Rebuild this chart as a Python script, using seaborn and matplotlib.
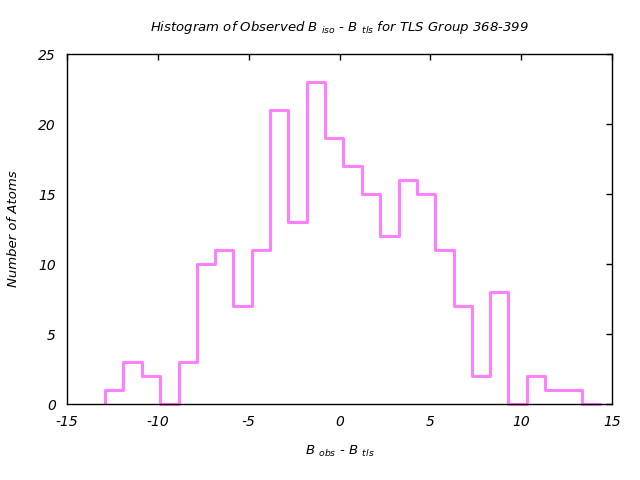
import numpy as np
import matplotlib
matplotlib.use("Agg")
import matplotlib.pyplot as plt
import seaborn as sns

# Data
bin_edges = [-12.90, -11.89, -10.88, -9.87, -8.86, -7.86, -6.85, -5.84, -4.83,
             -3.82, -2.81, -1.80, -0.79, 0.22, 1.23, 2.24, 3.25, 4.26, 5.27,
             6.28, 7.29, 8.30, 9.30, 10.31, 11.32, 12.33, 13.34, 14.35]
counts = [1, 3, 2, 0, 3, 10, 11, 7, 11, 21, 13, 23, 19, 17, 15, 12, 16, 15,
          11, 7, 2, 8, 0, 2, 1, 1, 0]
x_ticks = [-15, -10, -5, 0, 5, 10, 15]
y_ticks = [0, 5, 10, 15, 20, 25]

title = "Histogram of Observed B $_{iso}$ - B $_{tls}$ for TLS Group 368-399"
xlabel = "B $_{obs}$ - B $_{tls}$"
ylabel = "Number of Atoms"

sns.set_style("white")
plt.rcParams['font.family'] = ['DejaVu Sans']
plt.rcParams['mathtext.fontset'] = 'dejavusans'
plt.rcParams['mathtext.default'] = 'it'
plt.rcParams['text.color'] = 'black'

centers = [(a + b) / 2 for a, b in zip(bin_edges[:-1], bin_edges[1:])]
color = "#ff80ff"

fig = plt.figure(figsize=(6.4, 4.8), dpi=100)
ax = fig.add_axes([67 / 640, 1 - 404 / 480, (612 - 67) / 640, (404 - 54) / 480])

sns.histplot(x=centers, weights=counts, bins=bin_edges, element="step",
             fill=False, color=color, linewidth=2.2, ax=ax)
for line in ax.lines:
    line.set_clip_on(False)
ax.vlines(bin_edges[0], 0, counts[0], color=color, linewidth=2.2, clip_on=False)

ax.set_xlim(-15, 15)
ax.set_ylim(0, 25)
ax.set_xticks(x_ticks)
ax.set_yticks(y_ticks)
ax.set_xticklabels([str(t) for t in x_ticks], fontstyle='italic', fontsize=10)
ax.set_yticklabels([str(t) for t in y_ticks], fontstyle='italic', fontsize=10)
ax.tick_params(direction='in', top=True, right=True, length=4, width=1,
               color='black', labelcolor='black')
ax.tick_params(axis='x', pad=8)
ax.tick_params(axis='y', pad=8)
for s in ax.spines.values():
    s.set_color('black')
    s.set_linewidth(1.0)
    s.set_zorder(3)

ax.set_xlabel("")
ax.set_ylabel("")
fig.text(339.5 / 640, 1 - 27 / 480, title, ha='center', va='center',
         fontsize=9.5, fontstyle='italic', color='black')
fig.text(340 / 640, 1 - 451 / 480, xlabel, ha='center', va='center',
         fontsize=9.5, fontstyle='italic', color='black')
fig.text(14 / 640, 1 - 229 / 480, ylabel, ha='center', va='center',
         fontsize=9.5, fontstyle='italic', rotation=90, color='black')

fig.savefig("out.png", dpi=100)
